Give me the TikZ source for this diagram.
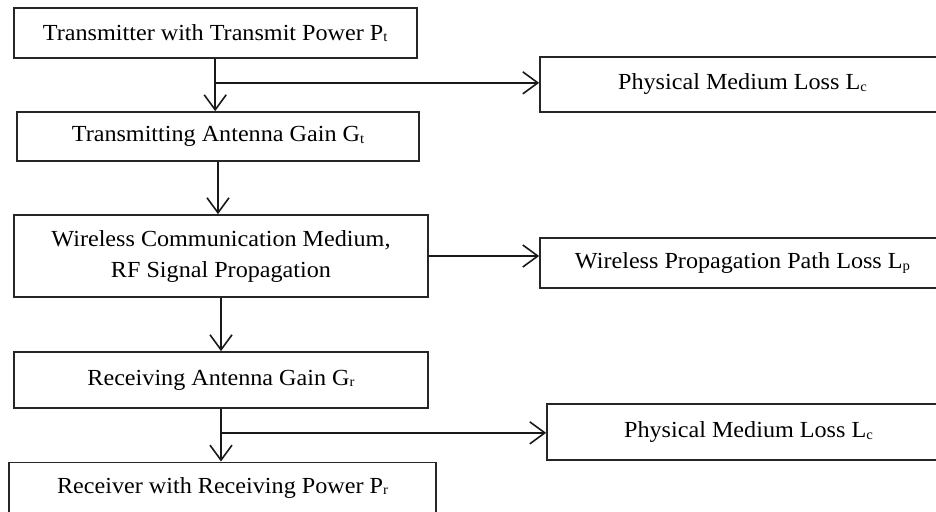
\documentclass[tikz,border=0pt]{standalone}
\usepackage{fontspec}
\setmainfont{Liberation Serif}[FakeStretch=1.05]
\usetikzlibrary{arrows.meta}
% small lowered index letter
\newcommand{\lowidx}[1]{\raisebox{-1.5pt}{\fontsize{14}{14}\selectfont #1}}
\begin{document}
\begin{tikzpicture}[x=1pt,y=-1pt,
  box/.style={draw=black!85, line width=1.7pt, inner sep=0pt, align=center},
  link/.style={draw=black!90, line width=1.6pt,
    -{Straight Barb[length=15pt,width=22pt,line width=1.6pt]}},
  font=\fontsize{23}{31}\selectfont]
\useasboundingbox (0,0) rectangle (936,511);
\clip (0,0) rectangle (936,511);

% main chain
\node[box, minimum width=403pt, minimum height=50pt] (tx) at (215.2,33)
  {Transmitter with Transmit Power P\lowidx{t}};
\node[box, minimum width=402pt, minimum height=49pt] (ant) at (218,136.5)
  {Transmitting Antenna Gain G\lowidx{t}};
\node[box, minimum width=414pt, minimum height=82pt] (wcm) at (221,256)
  {Wireless Communication Medium,\\ RF Signal Propagation};
\node[box, minimum width=414pt, minimum height=56pt] (rg) at (221,380)
  {Receiving Antenna Gain G\lowidx{r}};
\node[box, minimum width=427pt, text height=31pt, text depth=24pt, anchor=north] (rx) at (222.5,461.5)
  {Receiver with Receiving Power P\lowidx{r}};

% losses
\node[box, minimum width=405pt, minimum height=55pt] (pm1) at (742.5,84.5)
  {Physical Medium Loss L\lowidx{c}};
\node[box, minimum width=405pt, minimum height=50pt] (pl) at (742.5,263)
  {Wireless Propagation Path Loss L\lowidx{p}};
\node[box, minimum width=403pt, minimum height=56pt] (pm2) at (748.5,432)
  {Physical Medium Loss L\lowidx{c}};

% connectors
\coordinate (j1) at ([yshift=-24pt]tx.south);
\coordinate (j2) at ([yshift=-24pt]rg.south);
\draw[link] (tx.south) -- (tx.south |- ant.north);
\draw[link] (j1) -- (j1 -| pm1.west);
\draw[link] (ant.south) -- (ant.south |- wcm.north);
\draw[link] (wcm.east) -- (wcm.east -| pl.west);
\draw[link] (wcm.south) -- (wcm.south |- rg.north);
\draw[link] (rg.south) -- (rg.south |- rx.north);
\draw[link] (j2) -- (j2 -| pm2.west);
\end{tikzpicture}
\end{document}
